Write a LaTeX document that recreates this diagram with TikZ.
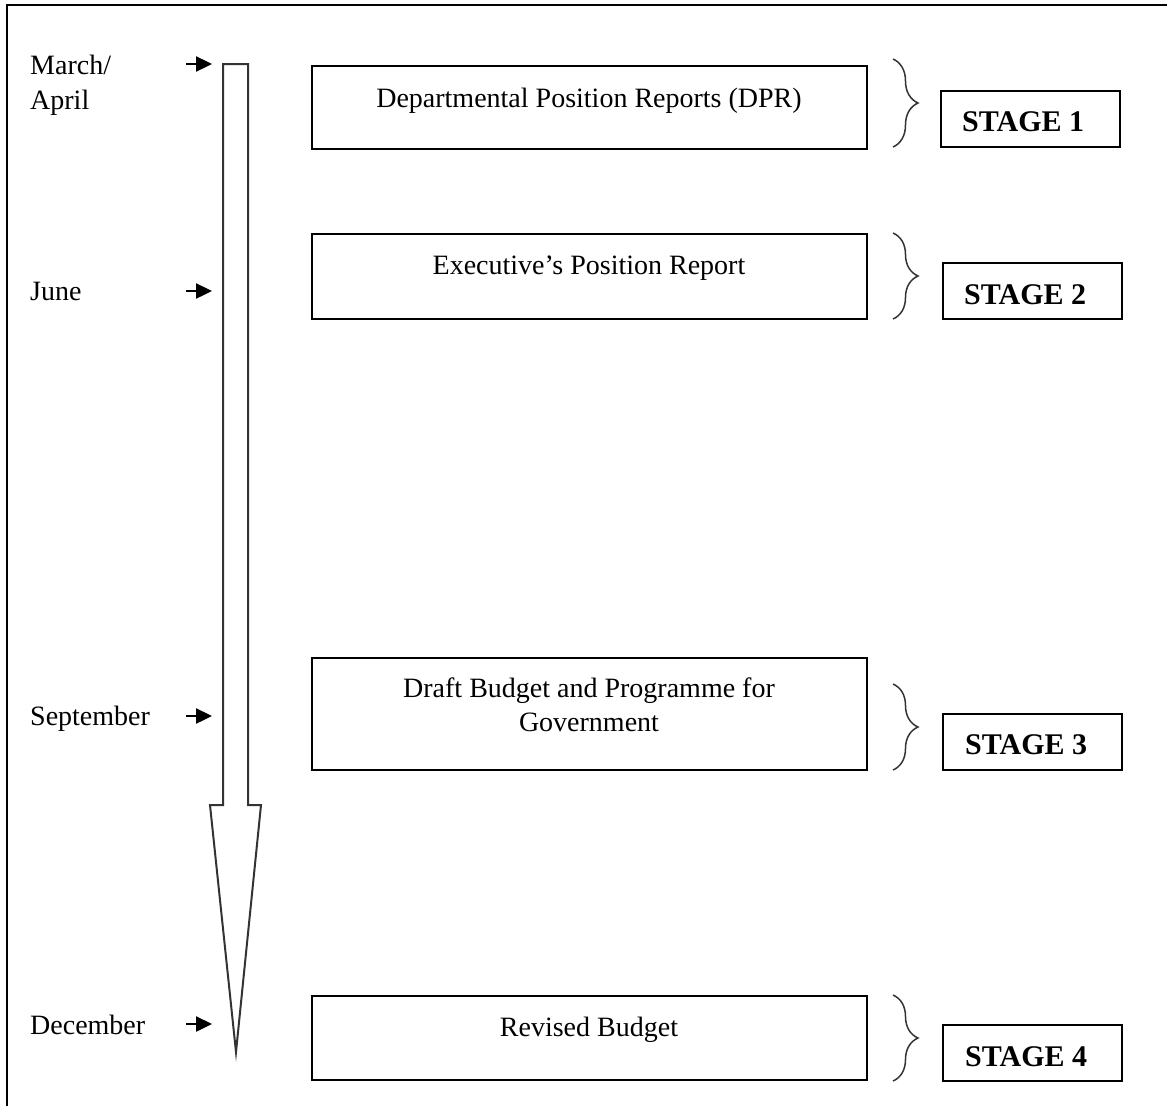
\documentclass[tikz,border=0pt]{standalone}
\usepackage{fontspec}
\setmainfont{Liberation Serif}
\usetikzlibrary{arrows.meta,decorations.pathreplacing}
\begin{document}
\begin{tikzpicture}[x=1pt,y=-1pt,
  box/.style={draw, line width=1.8pt, inner sep=0pt, anchor=north west, minimum width=555pt},
  stagebox/.style={draw, line width=1.8pt, inner sep=0pt, anchor=north west, minimum width=179pt, minimum height=56pt},
  txt/.style={inner sep=0pt, font=\fontsize{28}{34}\selectfont, align=center},
  stagetxt/.style={inner sep=0pt, anchor=base west, font=\fontsize{30}{34}\selectfont\bfseries},
  month/.style={inner sep=0pt, anchor=base west, align=left, font=\fontsize{28}{35}\selectfont},
  tick/.style={-{Triangle[length=16pt,width=15pt]}, line width=2.4pt},
  brc/.style={decorate, decoration={brace, amplitude=25pt, aspect=0.5}, line width=1.5pt, black!80}]
\useasboundingbox (0,0) rectangle (1167,1106);
\draw[line width=2.4pt] (7,1106) -- (7,5) -- (1167,5);

% big down arrow
\draw[line width=2pt, black!80, line join=miter] (223,64) -- (248,64) -- (248,805) -- (261,805) -- (236,1052) -- (210,805) -- (223,805) -- cycle;

% months
\node[month] (m1) at (30,109) {March/\\April};
\node[month] (m2) at (30,300) {June};
\node[month] (m3) at (30,725) {September};
\node[month] (m4) at (30,1034) {December};

\coordinate (a1s) at (186,64);  \coordinate (a1e) at (212,64);
\coordinate (a2s) at (186,291); \coordinate (a2e) at (212,291);
\coordinate (a3s) at (186,716); \coordinate (a3e) at (212,716);
\coordinate (a4s) at (186,1024);\coordinate (a4e) at (212,1024);
\draw[tick] (a1s) -- (a1e);
\draw[tick] (a2s) -- (a2e);
\draw[tick] (a3s) -- (a3e);
\draw[tick] (a4s) -- (a4e);

% main boxes
\node[box, minimum height=83pt] (b1) at (311,65) {};
\node[box, minimum height=85pt] (b2) at (311,233) {};
\node[box, minimum height=112pt] (b3) at (311,657) {};
\node[box, minimum height=84pt] (b4) at (311,995) {};
\node[txt, anchor=base] (t1) at (589,107) {Departmental Position Reports (DPR)};
\node[txt, anchor=base] (t2) at (589,274) {Executive’s Position Report};
\node[txt, anchor=base] (t3) at (589,731) {Draft Budget and Programme for\\Government};
\node[txt, anchor=base] (t4) at (589,1036) {Revised Budget};

% braces
\draw[brc] (893,59) -- (893,147);
\draw[brc] (893,233) -- (893,319);
\draw[brc] (893,684) -- (893,770);
\draw[brc] (893,995) -- (893,1081);

% stage boxes
\node[stagebox] (s1) at (940,90) {};
\node[stagebox] (s2) at (942,262) {};
\node[stagebox] (s3) at (942,713) {};
\node[stagebox] (s4) at (942,1024) {};
\node[stagetxt] (st1) at (962,131) {STAGE 1};
\node[stagetxt] (st2) at (964,304) {STAGE 2};
\node[stagetxt] (st3) at (965,754) {STAGE 3};
\node[stagetxt] (st4) at (965,1066) {STAGE 4};
\end{tikzpicture}
\end{document}
